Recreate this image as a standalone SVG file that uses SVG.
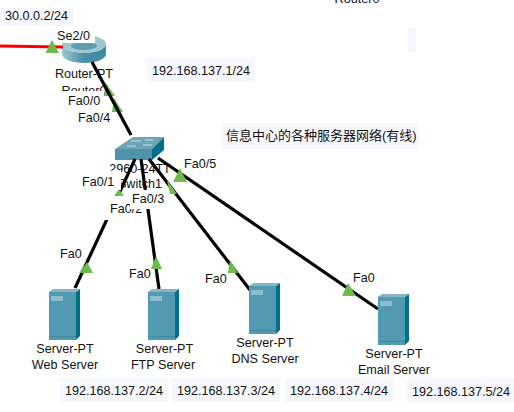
<svg xmlns="http://www.w3.org/2000/svg" width="514" height="412" viewBox="0 0 514 412">
<defs>
<linearGradient id="rg" x1="0" x2="1" y1="0" y2="0"><stop offset="0" stop-color="#9cc8d2"/><stop offset="0.5" stop-color="#4a8ea4"/><stop offset="1" stop-color="#3d8aa2"/></linearGradient>
<g id="srv">
<polygon points="0,3 27,3 27,51 0,51" fill="#5299b2"/>
<polygon points="0,3 4,0 31,0 27,3" fill="#86b5c4"/>
<polygon points="27,3 31,0 31,47 27,51" fill="#006f8a"/>
<rect x="2" y="7" width="12" height="5" fill="#8dbccb"/>
<rect x="0" y="47" width="27" height="1" fill="#4388a0"/>
</g>
</defs>
<style>
text{font-family:"Liberation Sans",Arial,"Noto Sans CJK SC",sans-serif;font-size:12.6px;fill:#111}
.cjk{font-size:13px}
.bg{fill:#f7f8fe}
.w{fill:#fff}
.m{text-anchor:middle}
.l{stroke:#000;stroke-width:3.200;fill:none}
.t{fill:#6cbb4b}
</style>
<rect width="514" height="412" fill="#fff"/>
<g id="notes">
<rect class="bg" x="1" y="8" width="73" height="18"/>
<rect class="bg" x="147" y="58" width="108" height="24"/>
<rect class="bg" x="408" y="28" width="8" height="24"/>
<rect class="bg" x="221" y="123" width="198" height="26"/>
<rect class="bg" x="60" y="378" width="108" height="24"/>
<rect class="bg" x="172" y="378" width="108" height="24"/>
<rect class="bg" x="285" y="378" width="108" height="24"/>
<rect class="bg" x="407" y="378" width="107" height="25"/>
<text x="5" y="20">30.0.0.2/24</text>
<text x="152" y="75">192.168.137.1/24</text>
<text class="cjk" x="226" y="140">信息中心的各种服务器网络(有线)</text>
<text x="65" y="395">192.168.137.2/24</text>
<text x="177" y="395">192.168.137.3/24</text>
<text x="290" y="395">192.168.137.4/24</text>
<text x="412" y="396">192.168.137.5/24</text>
<text class="m" x="357" y="3">Router0</text>
</g>
<g id="router">
<ellipse cx="84" cy="44" rx="22" ry="9" fill="#9dc7d2"/>
<ellipse cx="84" cy="46" rx="13" ry="4" fill="#5f9db0"/>
<path d="M62 44v10c0 5 10 9 22 9s22-4 22-9V44c0 5-10 9-22 9s-22-4-22-9z" fill="url(#rg)"/>
<text class="m" x="84" y="78">Router-PT</text>
<text class="m" x="84" y="95">Router0</text>
</g>
<g id="switch">
<polygon points="115,149 133,137 164,137 152,149" fill="#6da5b8"/>
<polygon points="115,149 152,149 152,160 115,160" fill="#4f93aa"/>
<polygon points="152,149 164,137 164,150 152,160" fill="#006f8a"/>
<path d="M131 141h10M145 140h8M127 146h9M143 145h9" stroke="#c9e0e6" stroke-width="1" fill="none"/>
<text class="m" x="140" y="173">2960-24TT</text>
<text class="m" x="140" y="188">Switch1</text>
</g>
<g id="uplink-markers">
<polygon class="t" points="106,83 115,96 104,96"/>
<polygon class="t" points="114,98 123,112 112,112"/>
</g>
<g id="connectors">
<line x1="0" y1="46" x2="63" y2="47" stroke="#f00" stroke-width="3.200"/>
<line class="l" x1="92" y1="62" x2="131" y2="135"/>
<line class="l" x1="135" y1="159" x2="75" y2="288"/>
<line class="l" x1="141" y1="159" x2="159" y2="289"/>
<line class="l" x1="149" y1="159" x2="250" y2="290"/>
<line class="l" x1="158" y1="158" x2="378" y2="309"/>
</g>
<g id="port-labels">
<rect class="w" x="55" y="27" width="40" height="16"/>
<rect class="w" x="60" y="91" width="44" height="16"/>
<rect class="w" x="80" y="171" width="41" height="19"/>
<rect class="w" x="104" y="196" width="32" height="24"/>
<text x="57" y="40">Se2/0</text>
<text x="68" y="105">Fa0/0</text>
<text x="78" y="122">Fa0/4</text>
<text x="82" y="186">Fa0/1</text>
<text x="110" y="213">Fa0/2</text>
<rect class="w" x="130" y="190" width="37" height="19"/>
<text x="132" y="203">Fa0/3</text>
<text x="184" y="168">Fa0/5</text>
<text x="60" y="258">Fa0</text>
<text x="129" y="278">Fa0</text>
<text x="205" y="283">Fa0</text>
<text x="353" y="282">Fa0</text>
</g>
<g id="markers">
<polygon class="t" points="52,40 45.500,53 59,53"/>
<polygon class="t" points="119,189 114,196 124,196"/>
<polygon class="t" points="167,180 177,194 170,194"/>
<polygon class="t" points="180,168 173,182 187,182"/>
<polygon class="t" points="87,262 79,273 93,273"/>
<polygon class="t" points="156,256 151,269 162,269"/>
<polygon class="t" points="230,260 228,273 238,273"/>
<polygon class="t" points="348,283 342,296 356,296"/>
</g>
<g id="web-server"><use href="#srv" x="49" y="289"/><text class="m" x="65" y="353">Server-PT</text><text class="m" x="65" y="369">Web Server</text></g>
<g id="ftp-server"><use href="#srv" x="148" y="289"/><text class="m" x="164.500" y="353">Server-PT</text><text class="m" x="163" y="369">FTP Server</text></g>
<g id="dns-server"><use href="#srv" x="249" y="283"/><text class="m" x="265" y="347">Server-PT</text><text class="m" x="265" y="363">DNS Server</text></g>
<g id="email-server"><use href="#srv" x="378" y="294"/><text class="m" x="394" y="358">Server-PT</text><text class="m" x="394" y="374">Email Server</text></g>
</svg>
